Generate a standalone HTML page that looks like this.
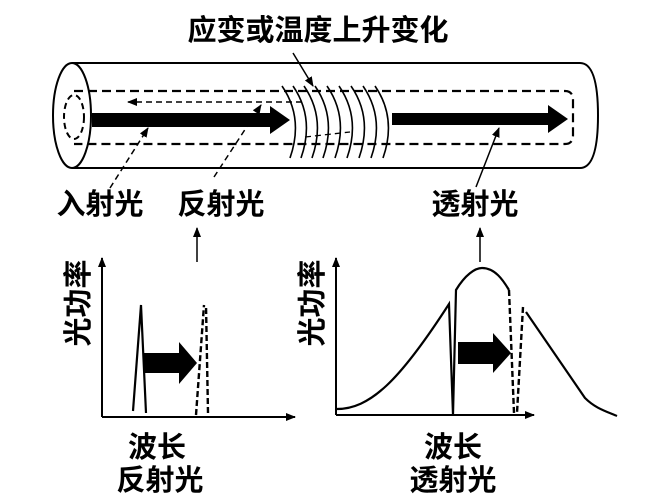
<!DOCTYPE html>
<html><head><meta charset="utf-8"><style>
html,body{margin:0;padding:0;background:#fff;}
svg{display:block;}
text{font-family:"Liberation Sans","Noto Sans CJK SC",sans-serif;font-size:29px;font-weight:bold;fill:#000;text-anchor:middle;}
</style></head><body>
<svg width="645" height="498" viewBox="0 0 645 498" xmlns="http://www.w3.org/2000/svg">
<defs>
<marker id="ah" markerWidth="10" markerHeight="8" refX="9" refY="4" orient="auto" markerUnits="userSpaceOnUse">
<path d="M0,0 L10,4 L0,8 Z" fill="#000"/></marker>
</defs>
<text x="318" y="40">应变或温度上升变化</text>
<path d="M72,63 L580,63 Q598,63 598,115.5 Q598,168 580,168 L72,168" fill="none" stroke="#000" stroke-width="2"/>
<ellipse cx="72" cy="115.5" rx="19" ry="52.5" fill="#fff" stroke="#000" stroke-width="2"/>
<ellipse cx="74" cy="117" rx="10" ry="22" fill="none" stroke="#000" stroke-width="2" stroke-dasharray="6,4"/>
<path d="M74,91 L565,91 Q573,91 573,100 L573,135 Q573,144 565,144 L74,144" fill="none" stroke="#000" stroke-width="2.2" stroke-dasharray="9,5"/>
<path d="M92,113 L270,113 L270,106 L290,120 L270,134 L270,127 L92,127 Z" fill="#000"/>
<path d="M392,113 L548,113 L548,105 L568,119 L548,133 L548,125 L392,125 Z" fill="#000"/>
<line x1="302" y1="102" x2="128" y2="102" stroke="#000" stroke-width="1.5" stroke-dasharray="6,4" marker-end="url(#ah)"/>
<g fill="none" stroke="#000" stroke-width="1.6">
<path d="M282,86 Q304,118 290,158"/>
<path d="M293,86 Q315,118 301,158"/>
<path d="M304,86 Q326,118 312,158"/>
<path d="M315,86 Q337,118 323,158"/>
<path d="M327,86 Q349,118 335,158"/>
<path d="M339,86 Q361,118 347,158"/>
<path d="M351,86 Q373,118 359,158"/>
<path d="M363,86 Q385,118 371,158"/>
<path d="M375,86 Q397,118 383,158"/>
</g>
<path d="M305,137 L350,132" stroke="#000" stroke-width="1.3" stroke-dasharray="6,4"/>
<line x1="293" y1="53" x2="313" y2="86" stroke="#000" stroke-width="1.5" marker-end="url(#ah)"/>
<line x1="110" y1="188" x2="148" y2="128" stroke="#000" stroke-width="1.5" stroke-dasharray="6,4" marker-end="url(#ah)"/>
<line x1="214" y1="177" x2="261" y2="105" stroke="#000" stroke-width="1.5" stroke-dasharray="6,4" marker-end="url(#ah)"/>
<line x1="476" y1="187" x2="499" y2="128" stroke="#000" stroke-width="1.5" marker-end="url(#ah)"/>
<text x="100" y="214">入射光</text>
<text x="221" y="214">反射光</text>
<text x="475" y="214">透射光</text>
<line x1="197" y1="262" x2="197" y2="228" stroke="#000" stroke-width="1.5" marker-end="url(#ah)"/>
<line x1="480" y1="262" x2="480" y2="228" stroke="#000" stroke-width="1.5" marker-end="url(#ah)"/>
<line x1="102" y1="417" x2="102" y2="258" stroke="#000" stroke-width="2" marker-end="url(#ah)"/>
<line x1="102" y1="417" x2="295" y2="417" stroke="#000" stroke-width="2" marker-end="url(#ah)"/>
<text transform="translate(88,303) rotate(-90)">光功率</text>
<path d="M133,411 L141,305 L146,413" fill="none" stroke="#000" stroke-width="2.2"/>
<line x1="196" y1="415" x2="204" y2="305" stroke="#000" stroke-width="2.4" stroke-dasharray="6,3"/>
<line x1="208" y1="413" x2="206" y2="305" stroke="#000" stroke-width="2.4" stroke-dasharray="6,3"/>
<path d="M144,353 L179,353 L179,342 L197,363 L179,384 L179,373 L144,373 Z" fill="#000"/>
<text x="157" y="457">波长</text>
<text x="160" y="490">反射光</text>
<line x1="336" y1="415" x2="336" y2="258" stroke="#000" stroke-width="2" marker-end="url(#ah)"/>
<line x1="336" y1="415" x2="534" y2="415" stroke="#000" stroke-width="2" marker-end="url(#ah)"/>
<text transform="translate(322,303) rotate(-90)">光功率</text>
<path d="M335,409 C370,410 400,380 449,304 L453,415 L456,290 C465,275 475,268 482,268 C495,268 503,280 509,290" fill="none" stroke="#000" stroke-width="2.2"/>
<line x1="509" y1="290" x2="514" y2="413" stroke="#000" stroke-width="2.4" stroke-dasharray="6,3"/>
<line x1="523" y1="307" x2="517" y2="413" stroke="#000" stroke-width="2.4" stroke-dasharray="6,3"/>
<path d="M526,312 L585,398 C595,408 605,411 617,416" fill="none" stroke="#000" stroke-width="2.2"/>
<path d="M458,342 L493,342 L493,333 L511,353 L493,373 L493,364 L458,364 Z" fill="#000"/>
<text x="453" y="457">波长</text>
<text x="453" y="490">透射光</text>
</svg>
</body></html>
